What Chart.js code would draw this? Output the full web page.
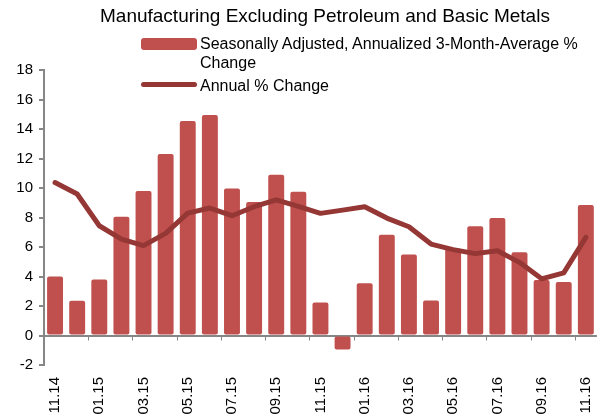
<!DOCTYPE html>
<html>
<head>
<meta charset="utf-8">
<script src="https://cdn.jsdelivr.net/npm/chart.js@4/dist/chart.umd.min.js"></script>
<style>
  body { margin: 0; background: #fff; font-family: "Liberation Sans", Arial, sans-serif; }
  #wrap { position: relative; width: 608px; height: 416px; }
  #title { position: absolute; left: 100px; top: 5px; font-size: 19px; line-height: 21px; white-space: nowrap; color: #000; }
  .lg { position: absolute; left: 200px; font-size: 16px; line-height: 19px; color: #000; white-space: nowrap; }
  .sw { position: absolute; left: 141px; width: 56px; }
</style>
</head>
<body>
<div id="wrap">
  <canvas id="myChart" width="608" height="416"></canvas>
  <div id="title">Manufacturing Excluding Petroleum and Basic Metals</div>
  <div class="sw" style="top:38px;height:12px;background:#C0504D;border-radius:3px;"></div>
  <div class="lg" style="top:34px;">Seasonally Adjusted, Annualized 3-Month-Average %<br>Change</div>
  <div class="sw" style="top:82px;height:5px;background:#953735;border-radius:3px;"></div>
  <div class="lg" style="top:76px;">Annual % Change</div>
</div>
<script>
const labels = ['11.14', '12.14', '01.15', '02.15', '03.15', '04.15', '05.15', '06.15', '07.15', '08.15', '09.15', '10.15',
  '11.15', '12.15', '01.16', '02.16', '03.16', '04.16', '05.16', '06.16', '07.16', '08.16', '09.16', '10.16', '11.16'];
const threeMonth = [4.0, 2.35, 3.8, 8.05, 9.8, 12.3, 14.55, 14.95, 9.97, 9.05, 10.9, 9.75,
  2.23, -0.95, 3.55, 6.83, 5.5, 2.37, 5.9, 7.4, 7.96, 5.64, 3.77, 3.63, 8.85];
const annual = [10.37, 9.59, 7.44, 6.54, 6.09, 6.92, 8.3, 8.64, 8.12, 8.73, 9.2, 8.75,
  8.28, 8.5, 8.73, 7.96, 7.37, 6.2, 5.82, 5.55, 5.75, 4.96, 3.84, 4.25, 6.65];
const yTicks = [-2, 0, 2, 4, 6, 8, 10, 12, 14, 16, 18];

const axisGray = '#868686';

// small tick marks under the zero line, every two months
const zeroTicks = {
  id: 'zeroTicks',
  afterDatasetsDraw(chart) {
    const x = chart.scales.x, y = chart.scales.y;
    const y0 = y.getPixelForValue(0);
    const step = (x.right - x.left) / labels.length;
    const c = chart.ctx;
    c.save();
    c.strokeStyle = axisGray;
    c.lineWidth = 1;
    for (let i = 2; i < labels.length; i += 2) {
      const px = Math.round(x.left + step * i) + 0.5;
      c.beginPath();
      c.moveTo(px, y0);
      c.lineTo(px, y0 + 5);
      c.stroke();
    }
    c.restore();
  }
};

const ctx = document.getElementById('myChart');
new Chart(ctx, {
  data: {
    labels: labels,
    datasets: [{
      type: 'line',
      label: 'Annual % Change',
      data: annual,
      borderColor: '#953735',
      borderWidth: 5,
      borderCapStyle: 'round',
      borderJoinStyle: 'round',
      pointRadius: 0,
      tension: 0,
      order: 0
    }, {
      type: 'bar',
      label: 'Seasonally Adjusted, Annualized 3-Month-Average % Change',
      data: threeMonth,
      backgroundColor: '#C0504D',
      borderRadius: 2,
      borderSkipped: false,
      barPercentage: 0.72,
      categoryPercentage: 1,
      order: 1
    }]
  },
  plugins: [zeroTicks],
  options: {
    responsive: false,
    animation: false,
    layout: { padding: { top: 70, right: 8, left: 0, bottom: 0 } },
    plugins: {
      legend: { display: false },
      title: { display: false },
      tooltip: { enabled: false }
    },
    scales: {
      x: {
        grid: { display: false },
        border: { display: false },
        afterFit: s => { s.height = 51; },
        ticks: {
          autoSkip: false,
          maxRotation: 90,
          minRotation: 90,
          padding: 4,
          color: '#000',
          font: { family: 'Liberation Sans', size: 15 },
          callback: (v, i) => (i % 2 === 0 ? labels[i] : '')
        }
      },
      y: {
        min: -2,
        max: 18,
        afterFit: s => { s.width = 44; },
        afterBuildTicks: s => { s.ticks = yTicks.map(v => ({ value: v })); },
        border: { display: true, color: axisGray, width: 2 },
        grid: {
          color: c => (c.tick && c.tick.value === 0 ? axisGray : 'transparent'),
          lineWidth: 2,
          tickColor: axisGray,
          tickLength: 5
        },
        ticks: {
          color: '#000',
          padding: 6,
          font: { family: 'Liberation Sans', size: 15 }
        }
      }
    }
  }
});
</script>
</body>
</html>
